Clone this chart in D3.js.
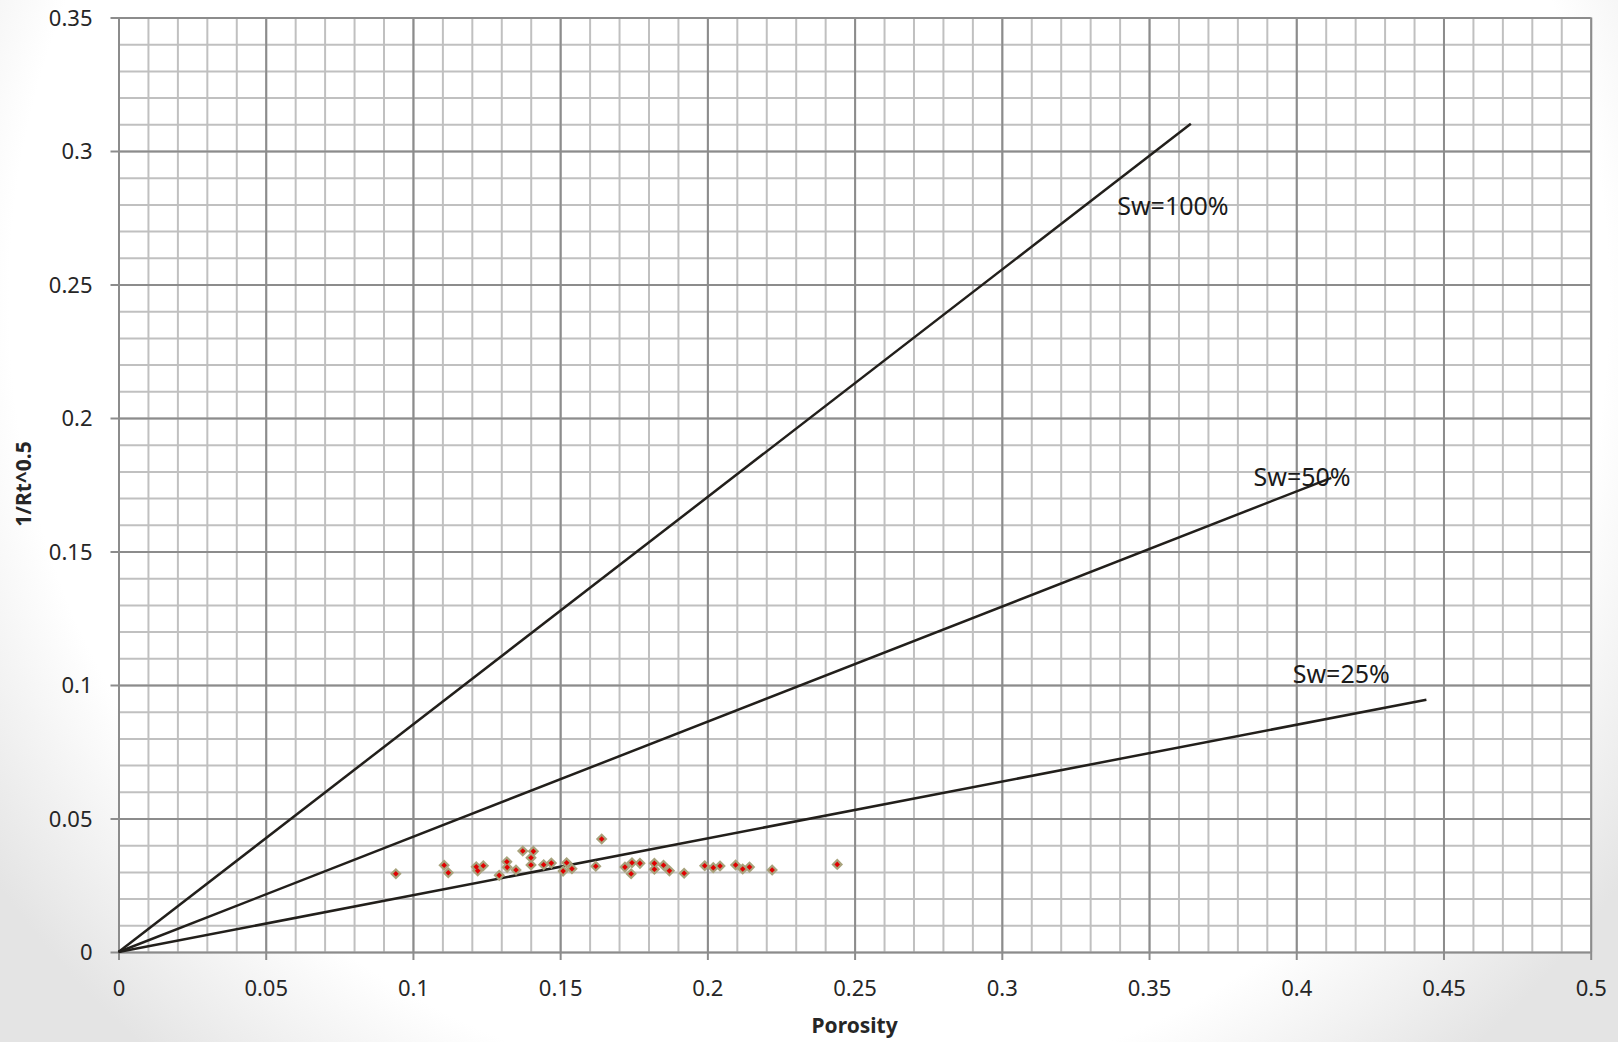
<!DOCTYPE html>
<html>
<head>
<meta charset="utf-8">
<script src="https://cdn.jsdelivr.net/npm/d3@7"></script>
<style>
  html, body { margin: 0; padding: 0; background: #fff; }
  svg { display: block; }
</style>
</head>
<body>
<svg id="chart" width="1618" height="1042"></svg>
<script>
// ---- data ----
const porosity = [0.0942, 0.1106, 0.1120, 0.1215, 0.1220, 0.1239, 0.1293, 0.1319, 0.1320, 0.1350,
  0.1373, 0.1409, 0.1401, 0.1401, 0.1444, 0.1470, 0.1522, 0.1510, 0.1540, 0.1641,
  0.1621, 0.1720, 0.1744, 0.1741, 0.1771, 0.1820, 0.1820, 0.1851, 0.1871, 0.1921,
  0.1991, 0.2020, 0.2043, 0.2096, 0.2120, 0.2143, 0.2220, 0.2441];
const invSqrtRt = [0.0293, 0.0325, 0.0297, 0.0319, 0.0304, 0.0323, 0.0287, 0.0338, 0.0317, 0.0307,
  0.0378, 0.0377, 0.0353, 0.0326, 0.0327, 0.0333, 0.0334, 0.0303, 0.0312, 0.0423,
  0.0321, 0.0318, 0.0334, 0.0293, 0.0332, 0.0332, 0.0310, 0.0325, 0.0304, 0.0295,
  0.0323, 0.0316, 0.0322, 0.0326, 0.0311, 0.0318, 0.0307, 0.0328];

const swLabels = ["Sw=100%", "Sw=50%", "Sw=25%"];
const lineEndX = [0.3642, 0.4119, 0.4442];
const lineEndY = [0.3102, 0.1776, 0.0945];
const labelX = [0.3392, 0.3855, 0.3988];
const labelY = [0.2760, 0.1745, 0.1006];

const xTicks = [0, 0.05, 0.1, 0.15, 0.2, 0.25, 0.3, 0.35, 0.4, 0.45, 0.5];
const yTicks = [0, 0.05, 0.1, 0.15, 0.2, 0.25, 0.3, 0.35];
const xMinor = d3.range(0, 51).map(i => i / 100);
const yMinor = d3.range(0, 36).map(i => i / 100);
const xTitle = "Porosity";
const yTitle = "1/Rt^0.5";

// ---- layout ----
const W = 1618, H = 1042;
const mLeft = 118.5, mRight = 1590.7, mTop = 17.5, mBottom = 952;
const svg = d3.select("#chart");

// background vignette (subtle, toward the bottom corners)
const defs = svg.append("defs");
const rg = defs.append("radialGradient").attr("id", "bg")
  .attr("gradientUnits", "userSpaceOnUse")
  .attr("cx", 809).attr("cy", 300).attr("r", 1000);
rg.append("stop").attr("offset", "0%").attr("stop-color", "#ffffff");
rg.append("stop").attr("offset", "80%").attr("stop-color", "#ffffff");
rg.append("stop").attr("offset", "100%").attr("stop-color", "#e4e4e4");
svg.append("rect").attr("width", W).attr("height", H).attr("fill", "url(#bg)");

const x = d3.scaleLinear().domain([0, 0.5]).range([mLeft, mRight]);
const y = d3.scaleLinear().domain([0, 0.35]).range([mBottom, mTop]);

const font = "'Noto Sans', 'Open Sans', sans-serif";

// plot area background
svg.append("rect").attr("x", mLeft).attr("y", mTop)
  .attr("width", mRight - mLeft).attr("height", mBottom - mTop).attr("fill", "#ffffff");

// minor grid
svg.append("g").attr("transform", `translate(0,${mBottom})`)
  .call(d3.axisBottom(x).tickValues(xMinor).tickSize(-(mBottom - mTop)).tickFormat(""))
  .call(g => g.select(".domain").remove())
  .call(g => g.selectAll("line").attr("stroke", "#c0c0c0").attr("stroke-width", 2));
svg.append("g").attr("transform", `translate(${mLeft},0)`)
  .call(d3.axisLeft(y).tickValues(yMinor).tickSize(-(mRight - mLeft)).tickFormat(""))
  .call(g => g.select(".domain").remove())
  .call(g => g.selectAll("line").attr("stroke", "#c0c0c0").attr("stroke-width", 2));

// major grid (with outer tick extension)
svg.append("g").attr("transform", `translate(0,${mBottom + 8})`)
  .call(d3.axisBottom(x).tickValues(xTicks).tickSize(-(mBottom - mTop + 8)).tickFormat(""))
  .call(g => g.select(".domain").remove())
  .call(g => g.selectAll("line").attr("stroke", "#8c8c8c").attr("stroke-width", 2));
svg.append("g").attr("transform", `translate(${mLeft - 8},0)`)
  .call(d3.axisLeft(y).tickValues(yTicks).tickSize(-(mRight - mLeft + 8)).tickFormat(""))
  .call(g => g.select(".domain").remove())
  .call(g => g.selectAll("line").attr("stroke", "#8c8c8c").attr("stroke-width", 2));

// tick labels
const xAxis = svg.append("g").attr("transform", `translate(0,${mBottom})`)
  .call(d3.axisBottom(x).tickValues(xTicks).tickSize(0).tickPadding(30).tickFormat(d => String(d)));
xAxis.select(".domain").remove();
xAxis.selectAll("text").attr("font-family", font).attr("font-size", 22).attr("fill", "#262626")
  .attr("dy", "0").attr("y", 44);

const yAxis = svg.append("g").attr("transform", `translate(${mLeft},0)`)
  .call(d3.axisLeft(y).tickValues(yTicks).tickSize(0).tickPadding(26).tickFormat(d => String(d)));
yAxis.select(".domain").remove();
yAxis.selectAll("text").attr("font-family", font).attr("font-size", 22).attr("fill", "#262626")
  .attr("dy", "0.35em");

// Sw lines
const lines = swLabels.map((s, i) => ({ label: s, x1: 0, y1: 0, x2: lineEndX[i], y2: lineEndY[i], lx: labelX[i], ly: labelY[i] }));
svg.append("g").selectAll("line").data(lines).join("line")
  .attr("x1", d => x(d.x1)).attr("y1", d => y(d.y1))
  .attr("x2", d => x(d.x2)).attr("y2", d => y(d.y2))
  .attr("stroke", "#221f1b").attr("stroke-width", 2.5);

// points
const pts = porosity.map((p, i) => ({ x: p, y: invSqrtRt[i] }));
const gp = svg.append("g");
const diamond = r => `M0,${-r}L${r},0L0,${r}L${-r},0Z`;
gp.selectAll("path.o").data(pts).join("path").attr("class", "o")
  .attr("transform", d => `translate(${x(d.x)},${y(d.y)})`)
  .attr("d", diamond(5.8)).attr("fill", "#a8a27c");
gp.selectAll("path.i").data(pts).join("path").attr("class", "i")
  .attr("transform", d => `translate(${x(d.x)},${y(d.y)})`)
  .attr("d", diamond(2.8)).attr("fill", "#e00000");

// Sw labels
svg.append("g").selectAll("text").data(lines).join("text")
  .attr("x", d => x(d.lx)).attr("y", d => y(d.ly))
  .attr("font-family", font).attr("font-size", 25).attr("fill", "#1a1a1a")
  .text(d => d.label);

// axis titles
svg.append("text").attr("x", (mLeft + mRight) / 2).attr("y", 1033)
  .attr("text-anchor", "middle").attr("font-family", font).attr("font-weight", "bold")
  .attr("font-size", 21).attr("fill", "#262626").text(xTitle);
svg.append("text").attr("transform", `translate(31,484) rotate(-90)`)
  .attr("text-anchor", "middle").attr("font-family", font).attr("font-weight", "bold")
  .attr("font-size", 21).attr("fill", "#262626").text(yTitle);
</script>
</body>
</html>
